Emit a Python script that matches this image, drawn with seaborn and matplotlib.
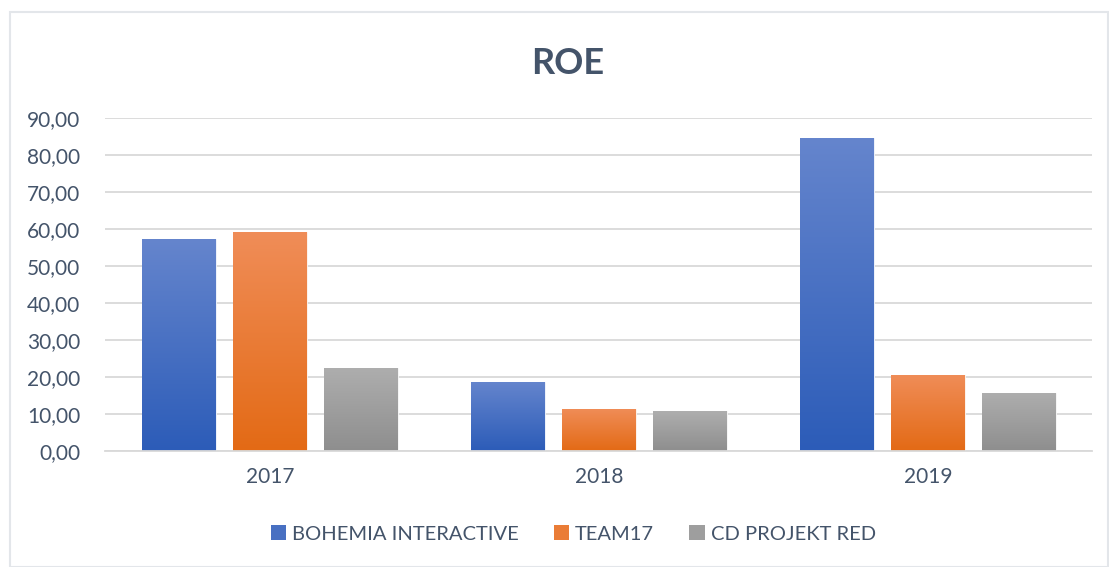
import numpy as np
import pandas as pd
import matplotlib
matplotlib.use('Agg')
import matplotlib.pyplot as plt
from matplotlib.colors import LinearSegmentedColormap, to_rgb, to_hex
from matplotlib.patches import Patch, Rectangle
import seaborn as sns

# Data
years = ['2017', '2018', '2019']
companies = ['BOHEMIA INTERACTIVE', 'TEAM17', 'CD PROJEKT RED']
bohemia = [57.2, 18.7, 84.6]
team17 = [59.1, 11.4, 20.6]
cdpr = [22.5, 10.8, 15.7]

# Gradient colours (top, bottom) per company, Excel-like fill
gradients = {
    'BOHEMIA INTERACTIVE': ('#6585CD', '#2C5CB8'),
    'TEAM17': ('#F08D58', '#E36A15'),
    'CD PROJEKT RED': ('#AEAEAE', '#8E8E8E'),
}
text_color = '#44546A'
grid_color = '#D9D9D9'

df = pd.DataFrame({
    'year': years * 3,
    'company': [c for c in companies for _ in years],
    'roe': bohemia + team17 + cdpr,
})

sns.set_style('white')
plt.rcParams['font.family'] = ['Lato', 'DejaVu Sans']

fig = plt.figure(figsize=(11.09, 5.67), dpi=100)
ax = fig.add_axes([0.095, 0.205, 0.89, 0.587])

palette = {c: gradients[c][1] for c in companies}
sns.barplot(data=df, x='year', y='roe', hue='company', hue_order=companies,
            order=years, palette=palette, width=0.83, gap=0.19,
            saturation=1, ax=ax, legend=False)

# Replace flat fills with vertical gradients clipped to each bar
for container, comp in zip(ax.containers, companies):
    top, bottom = gradients[comp]
    cmap = LinearSegmentedColormap.from_list(comp, [bottom, top])
    grad = np.linspace(0, 1, 256).reshape(-1, 1)
    for bar in container:
        x0, y0 = bar.get_x(), bar.get_y()
        w, h = bar.get_width(), bar.get_height()
        im = ax.imshow(grad, cmap=cmap, aspect='auto', origin='lower',
                       extent=[x0, x0 + w, y0, y0 + h], zorder=bar.get_zorder() + 0.1)
        im.set_clip_path(bar)
        bar.set_edgecolor('white')
        bar.set_linewidth(0.6)

ax.set_xlim(-0.5, 2.5)
ax.set_ylim(0, 90)
ax.set_yticks(np.arange(0, 91, 10))
ax.set_yticklabels([f'{v:.2f}'.replace('.', ',') for v in np.arange(0, 91, 10)])
ax.yaxis.grid(True, color=grid_color, linewidth=1.3)
ax.set_axisbelow(True)
for side in ['top', 'right', 'left']:
    ax.spines[side].set_visible(False)
ax.spines['bottom'].set_color(grid_color)
ax.spines['bottom'].set_linewidth(1.3)
ax.tick_params(axis='both', length=0, labelsize=15, colors=text_color)
ax.tick_params(axis='y', pad=18)
ax.tick_params(axis='x', pad=12)
ax.set_xlabel('')
ax.set_ylabel('')

fig.text(0.512, 0.888, 'ROE', ha='center', va='center', fontsize=26,
         fontweight='bold', color=text_color)

# legend squares use the mid-tone of each gradient
handles = []
for c in companies:
    mid = np.mean([to_rgb(gradients[c][0]), to_rgb(gradients[c][1])], axis=0)
    handles.append(Patch(facecolor=to_hex(mid), edgecolor='none'))
fig.legend(handles, companies, loc='center', bbox_to_anchor=(0.517, 0.058), ncol=3,
           frameon=False, fontsize=14.5, labelcolor=text_color, handlelength=0.75,
           handleheight=0.75, handletextpad=0.3, columnspacing=1.75)

# light chart border
fig.patches.append(Rectangle((0.009, 0.0), 0.99, 0.978, transform=fig.transFigure,
                             fill=False, edgecolor='#E3E6EA', linewidth=1.5))

fig.savefig('out.png', dpi=100)
